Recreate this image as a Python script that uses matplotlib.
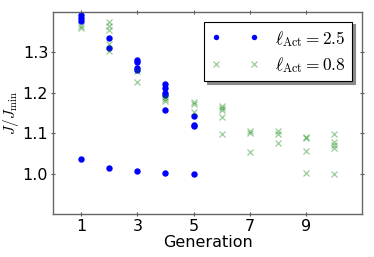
import numpy as np
import matplotlib
matplotlib.use("Agg")
import matplotlib.pyplot as plt

plt.rcParams["mathtext.fontset"] = "cm"

# ---------------------------------------------------------------------------
# Data: J/J_min per generation
# ---------------------------------------------------------------------------
gen_long = [1, 1, 1, 1,
            2, 2, 2,
            3, 3, 3, 3, 3,
            4, 4, 4, 4, 4, 4,
            5, 5, 5, 5]
val_long = [1.392, 1.385, 1.378, 1.037,
            1.336, 1.311, 1.013,
            1.281, 1.276, 1.261, 1.256, 1.007,
            1.222, 1.213, 1.200, 1.195, 1.157, 1.002,
            1.142, 1.121, 1.118, 1.000]

gen_short = [1, 1,
             2, 2, 2, 2, 2,
             3, 3,
             4, 4, 4,
             5, 5, 5,
             6, 6, 6, 6, 6,
             7, 7, 7,
             8, 8, 8,
             9, 9, 9, 9,
             10, 10, 10, 10, 10]
val_short = [1.366, 1.361,
             1.376, 1.365, 1.355, 1.321, 1.304,
             1.254, 1.226,
             1.190, 1.185, 1.180,
             1.178, 1.172, 1.153,
             1.168, 1.163, 1.158, 1.140, 1.097,
             1.105, 1.101, 1.053,
             1.105, 1.099, 1.075,
             1.092, 1.088, 1.056, 1.002,
             1.099, 1.078, 1.071, 1.063, 1.000]

xticks = [1, 3, 5, 7, 9]
yticks = [1.0, 1.1, 1.2, 1.3]

fig = plt.figure(figsize=(3.74, 2.57), dpi=100)
ax = fig.add_axes([0.142, 0.167, 0.826, 0.786])

ax.plot(gen_long, val_long, "o", color="#0000ff", markersize=4.6,
        markeredgewidth=0, label=r"$\ell_{\rm Act}=2.5$")
ax.plot(gen_short, val_short, "x", color="#008000", alpha=0.4,
        markersize=5, markeredgewidth=0.9, label=r"$\ell_{\rm Act}=0.8$")

ax.set_xlim(0, 11)
ax.set_ylim(0.9, 1.4)
ax.set_xticks(xticks)
ax.set_yticks(yticks)
ax.set_xlabel("Generation", fontsize=11.5, labelpad=1)
ax.set_ylabel(r"$J/J_{\rm min}$", fontsize=11, labelpad=1)
ax.tick_params(labelsize=11.5, direction="inout", length=3,
               top=True, right=True, color="#555555", pad=2)
for sp in ax.spines.values():
    sp.set_color("#666666")
    sp.set_linewidth(1.0)

leg = ax.legend(loc="upper right", numpoints=2, fontsize=12.5,
                markerscale=0.85, fancybox=False,
                shadow={"color": "#8a8a8a", "alpha": 1.0},
                borderaxespad=0.55, handlelength=2.8, handletextpad=0.9,
                labelspacing=0.35, borderpad=0.4)
leg.get_frame().set_edgecolor("black")
leg.get_frame().set_linewidth(0.8)

fig.savefig("out.png", dpi=100)
